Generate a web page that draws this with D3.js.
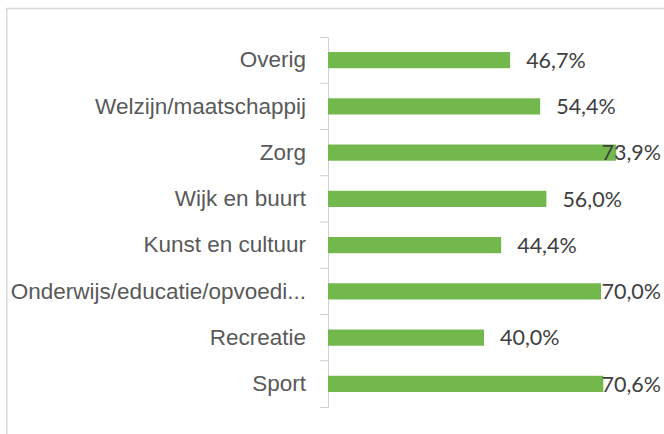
<!DOCTYPE html>
<html>
<head>
<meta charset="utf-8">
<title>Sectoren</title>
<script src="https://cdn.jsdelivr.net/npm/d3@7"></script>
<style>
  body { margin: 0; background: #fff; }
  svg { display: block; font-family: Lato, "Open Sans", sans-serif; }
</style>
</head>
<body>
<svg id="chart" width="664" height="434"></svg>
<script>
// data, top to bottom as in the chart
const categories = ['Overig', 'Welzijn/maatschappij', 'Zorg', 'Wijk en buurt',
  'Kunst en cultuur', 'Onderwijs/educatie/opvoedi...', 'Recreatie', 'Sport'];
const values = [0.467, 0.544, 0.739, 0.560, 0.444, 0.700, 0.400, 0.706];

const svg = d3.select('#chart');

// chart frame (runs off right and bottom edge like the original)
svg.append('rect')
  .attr('x', 6.75).attr('y', 8.5)
  .attr('width', 700).attr('height', 500)
  .attr('fill', 'none')
  .attr('stroke', '#d9d9d9')
  .attr('stroke-width', 1.5);

const x = d3.scaleLinear().domain([0, 0.8]).range([328, 640]);
const y = d3.scaleBand()
  .domain(categories)
  .range([37, 407])
  .paddingInner(0.65)
  .paddingOuter(0.325);

const data = categories.map((c, i) => ({ cat: c, val: values[i] }));

// category axis
const axis = svg.append('g')
  .attr('transform', 'translate(328,0)')
  .call(d3.axisLeft(y).tickSize(0).tickSizeOuter(8).tickPadding(22));
axis.select('.domain').attr('stroke', '#d0d0d0');
axis.selectAll('text')
  .attr('fill', '#595959')
  .style('font-size', '22.5px');

// ticks between categories
const gap = y.step() * y.paddingInner() / 2;
axis.selectAll('.sep')
  .data(categories.slice(1))
  .enter().append('line')
  .attr('class', 'sep')
  .attr('x1', -8).attr('x2', 0)
  .attr('y1', d => y(d) - gap).attr('y2', d => y(d) - gap)
  .attr('stroke', '#d0d0d0');

// bars
svg.append('g').selectAll('rect')
  .data(data)
  .enter().append('rect')
  .attr('x', x(0))
  .attr('y', d => y(d.cat))
  .attr('width', d => x(d.val) - x(0))
  .attr('height', y.bandwidth())
  .attr('fill', '#72b84c');

// value labels, pushed back inside the frame when they would overflow
const fmt = v => d3.format('.1f')(v * 100).replace('.', ',') + '%';
svg.append('g').selectAll('text')
  .data(data)
  .enter().append('text')
  .attr('y', d => y(d.cat) + y.bandwidth() / 2)
  .attr('dy', '0.36em')
  .attr('fill', '#404040')
  .style('font-size', '21.5px')
  .text(d => fmt(d.val))
  .attr('x', function (d) {
    const w = this.getComputedTextLength();
    return Math.min(x(d.val) + 16, 661 - w);
  });
</script>
</body>
</html>
